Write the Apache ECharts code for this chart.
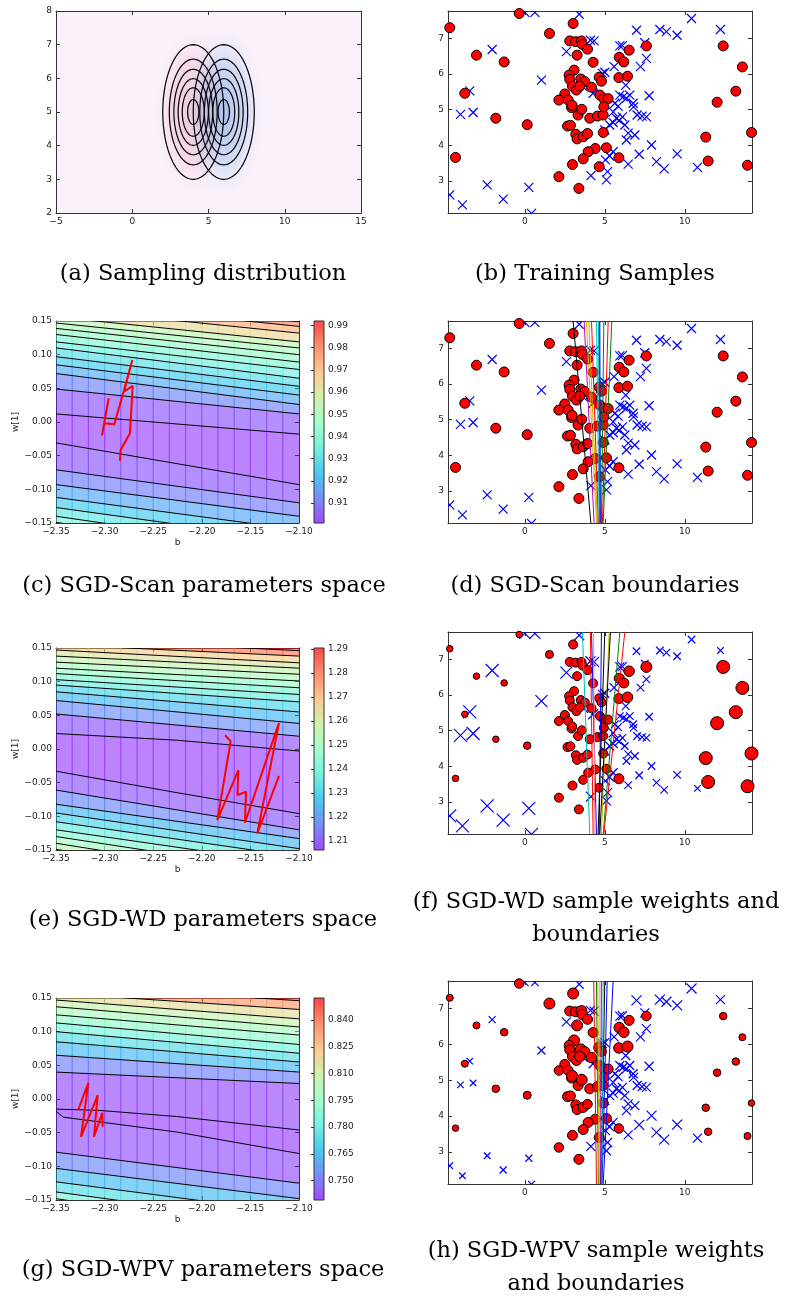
<!DOCTYPE html>
<html>
<head>
<meta charset="utf-8">
<title>SGD sample weighting</title>
<script src="https://cdn.jsdelivr.net/npm/echarts@6/dist/echarts.min.js"></script>
<style>
html, body { margin: 0; padding: 0; background: #fff; }
#fig { width: 790px; height: 1297px; }
</style>
</head>
<body>
<div id="fig"></div>
<script>
// ---------- (a) sampling distribution ----------
var gaussCenters = [[4, 5], [6, 5]];
var gaussTint = ['rgba(232,160,195,0.5)', 'rgba(120,165,230,0.6)'];
var gaussRadii = [2.0, 1.57, 1.27, 0.99, 0.72, 0.37];

// ---------- training samples (same set in b, d, f, h) ----------
var redPts = [
  [-4.69,7.30],[-0.35,7.70],[-3.02,6.53],[-1.29,6.34],[-3.75,5.46],[-1.81,4.76],[0.15,4.58],[-4.33,3.66],
  [1.54,7.14],[3.02,7.42],[2.81,6.93],[3.17,6.91],[3.54,6.93],[3.60,6.83],[3.92,6.70],[3.27,6.53],
  [4.27,6.33],[5.90,6.47],[6.19,6.34],[6.52,6.67],[7.60,6.79],[3.08,6.11],[2.77,5.97],[2.81,5.85],
  [3.50,5.86],[3.75,5.79],[4.65,5.91],[4.79,5.80],[5.88,5.90],[6.42,5.94],[2.98,5.66],[3.23,5.55],
  [3.44,5.66],[4.17,5.63],[2.50,5.44],[2.13,5.27],[2.71,5.27],[4.69,5.41],[4.94,5.31],[5.21,5.31],
  [2.92,5.06],[2.96,5.12],[3.33,4.85],[3.56,5.01],[4.06,4.76],[4.54,4.82],[4.90,4.85],[4.94,5.08],
  [2.67,4.54],[2.85,4.56],[3.19,4.31],[3.27,4.18],[3.65,4.24],[3.92,4.33],[4.90,4.36],[4.40,3.91],
  [3.96,3.82],[5.10,3.93],[3.65,3.62],[2.98,3.46],[4.65,3.40],[5.88,3.65],[2.13,3.12],[3.38,2.79],
  [11.31,4.23],[11.46,3.56],[12.02,5.21],[12.40,6.79],[13.19,5.52],[13.60,6.20],[13.92,3.44],[14.17,4.36]
];
var bluePts = [
  [-4.69,2.61],[-3.90,2.33],[-2.35,2.89],[-1.35,2.49],[0.25,2.82],[0.42,2.09],[-4.02,4.87],[-3.23,4.92],
  [-3.44,5.53],[-2.04,6.69],[0.00,7.73],[0.63,7.73],[1.04,5.83],[3.40,7.68],[2.60,6.63],[4.33,6.93],
  [5.00,6.05],[5.58,6.21],[5.94,6.79],[6.10,6.80],[6.98,7.23],[7.50,6.88],[7.60,6.44],[7.23,6.21],
  [8.44,7.25],[8.85,7.19],[9.52,7.09],[10.42,7.56],[12.23,7.25],[6.31,5.69],[5.94,5.41],[6.15,5.36],
  [6.35,5.32],[6.56,5.41],[7.77,5.39],[5.63,5.18],[5.83,5.10],[6.77,5.18],[6.80,5.08],[7.02,4.85],
  [7.33,4.82],[7.60,4.80],[5.52,4.94],[5.73,4.76],[6.10,4.80],[5.52,4.64],[5.31,4.57],[5.90,4.70],
  [6.25,4.57],[6.46,4.34],[6.88,4.29],[6.35,4.15],[7.92,4.01],[5.00,4.43],[5.52,3.82],[5.04,3.59],
  [5.30,3.70],[6.46,3.47],[7.15,3.75],[8.23,3.54],[8.71,3.34],[9.52,3.76],[10.79,3.38],[4.13,3.15],
  [5.17,3.26],[5.10,3.03],[3.65,5.64],[4.27,5.46],[4.85,6.02],[4.10,6.95]
];
// marker sizes (px): plain panels use one size, weighted panels one per sample
var redSizeB = 10;
var blueSizeB = 9;
var redSizeF = [6.5,6.5,6.5,6.5,6.5,6.5,7.5,6.5, 8,9,9,9,9,9,9,9, 9,10,10,10.5,11,9,9,9, 9,9,9,9,10,10.5,9,9,
  9,9,9,9,9,9,9,9, 9,9,9,9,9,9,9,9, 9,9,9,9,9,9,9,9, 9,9,9,9,9,10,9,9, 13,13,13,13,13,13,13,13];
var redSizeH = [7,9.5,7,7.5,7,7.5,8,6.5, 11,11,10,10,11,10.5,10,11, 10,10.5,10.5,10,9.5,11,10,10,
  11,10.5,11,10,10.5,11,10,10, 10.5,10.5,10,9.5,10,10,10,10, 10,11,10,11,10,10,10,10, 10,10,10,10,10,9.5,10,10,
  10,10,10,10,10,9.5,9.5,10, 7.5,7.5,7.5,7.5,7.5,7,7,6.5];
var blueSizeF = [13,13,13,13,13,13,13,13, 13,13,11,11,12,10,12,10, 9,9,9,9,7.5,7.5,7.5,7.5, 7.5,7.5,7.5,7.5,6.5,7.5,7.5,7.5,
  7.5,7.5,7.5,7.5,7.5,7.5,7.5,7.5, 7.5,7.5,9,9,7.5,9,9,9, 7.5,7.5,7.5,7.5,7.5,9,9,9, 9,7.5,7.5,7.5,7.5,7.5,6.5,10, 9,9,10,10,9,10];
var blueSizeH = [6.5,6.5,6.5,7,7,7,6.5,6.5, 6.5,7,7.5,7.5,8,9,9,9, 9,9,9,9,10,9,9,9, 10,10,10,10,9,9,9,9,
  9,9,9,9,9,9,9,9, 9,9,9,9,9,9,9,9, 9,9,9,9,10,9,9,9, 9,9,10,10,10,10,9,9, 9,9,9,9,9,9];

// decision boundaries: [x at bottom edge, x at top edge]
var bndD = [[4.13,3.02],[4.33,3.71],[4.48,3.85],[4.54,4.00],[4.60,4.17],[4.65,4.48],[4.69,4.60],[4.72,4.66],[4.71,4.69],[4.79,4.94],[4.85,5.21],[4.90,5.44]];
var bndDColor = ['#000000','#bf00bf','#bfbf00','#e0a000','#ff0000','#00bfbf','#00bfbf','#2a8a8a','#0000ff','#008000','#ff0000','#008000'];
var bndF = [[4.06,3.60],[4.27,4.10],[4.48,4.17],[4.38,4.30],[4.65,4.79],[4.58,5.00],[4.79,5.27],[4.69,5.35],[4.90,5.94],[4.94,6.25]];
var bndFColor = ['#00bfbf','#ff0000','#0000ff','#ff8080','#0000ff','#000000','#bfbf00','#000000','#008000','#ff0000'];
var bndH = [[4.48,4.31],[4.60,4.48],[4.65,4.56],[4.69,4.69],[4.73,4.79],[4.77,5.00],[4.83,5.15],[4.90,5.52],[4.81,4.90]];
var bndHColor = ['#ff0000','#008000','#bfbf00','#ff80c0','#bf00bf','#000000','#0000ff','#0000ff','#00bfbf'];

// ---------- parameter spaces: SGD paths [b, w1] ----------
var pathC = [[-2.2958,0.0353],[-2.3027,-0.0200],[-2.3003,-0.0018],[-2.2900,-0.0032],[-2.2807,0.0437],[-2.2715,0.0922],
  [-2.2800,0.0450],[-2.2711,0.0536],[-2.2739,-0.0166],[-2.2835,-0.0413],[-2.2842,-0.0576]];
var pathE = [[-2.1761,0.0205],[-2.1703,0.0116],[-2.1840,-0.1056],[-2.1624,-0.0314],[-2.1634,-0.0685],[-2.1545,-0.0635],
  [-2.1556,-0.1095],[-2.1206,0.0388],[-2.1429,-0.1253],[-2.1206,-0.0398]];
var pathG = [[-2.3270,-0.0156],[-2.3167,0.0240],[-2.3243,-0.0561],[-2.3071,0.0057],[-2.3109,-0.0561],[-2.3023,-0.0205],[-2.3020,-0.0413]];

// contour lines (top to bottom) and the loss value of each band between them
var contC = [
  [[-2.35,0.186],[-2.10,0.149]], [[-2.35,0.179],[-2.10,0.142]], [[-2.35,0.169],[-2.10,0.132]],
  [[-2.35,0.156],[-2.10,0.119]], [[-2.35,0.147],[-2.10,0.110]], [[-2.35,0.139],[-2.10,0.100]],
  [[-2.35,0.130],[-2.10,0.089]], [[-2.35,0.119],[-2.10,0.078]], [[-2.35,0.110],[-2.10,0.065]],
  [[-2.35,0.097],[-2.10,0.053]], [[-2.35,0.085],[-2.10,0.040]], [[-2.35,0.072],[-2.10,0.026]],
  [[-2.35,0.049],[-2.10,0.012]], [[-2.35,0.012],[-2.10,-0.018]], [[-2.35,-0.031],[-2.10,-0.093]],
  [[-2.35,-0.071],[-2.10,-0.120]], [[-2.35,-0.093],[-2.10,-0.140]], [[-2.35,-0.112],[-2.10,-0.160]],
  [[-2.35,-0.127],[-2.10,-0.177]], [[-2.35,-0.140],[-2.10,-0.192]], [[-2.35,-0.149],[-2.10,-0.204]]
];
var bandC = [0.988,0.981,0.973,0.964,0.955,0.950,0.945,0.940,0.935,0.930,0.925,0.919,0.912,0.905,
  0.902,0.905,0.911,0.918,0.925,0.932,0.939,0.948];
var contE = [
  [[-2.35,0.164],[-2.10,0.146]], [[-2.35,0.155],[-2.10,0.138]], [[-2.35,0.147],[-2.10,0.128]],
  [[-2.35,0.138],[-2.10,0.120]], [[-2.35,0.129],[-2.10,0.111]], [[-2.35,0.120],[-2.10,0.101]],
  [[-2.35,0.112],[-2.10,0.091]], [[-2.35,0.103],[-2.10,0.081]], [[-2.35,0.095],[-2.10,0.070]],
  [[-2.35,0.085],[-2.10,0.055]], [[-2.35,0.072],[-2.10,0.038]], [[-2.35,0.052],[-2.10,0.019]],
  [[-2.35,0.023],[-2.225,0.013],[-2.10,-0.003]], [[-2.35,-0.033],[-2.225,-0.065],[-2.10,-0.096]],
  [[-2.35,-0.061],[-2.10,-0.120]], [[-2.35,-0.082],[-2.10,-0.133]], [[-2.35,-0.095],[-2.10,-0.148]],
  [[-2.35,-0.108],[-2.10,-0.160]], [[-2.35,-0.120],[-2.10,-0.172]], [[-2.35,-0.130],[-2.10,-0.185]],
  [[-2.35,-0.140],[-2.10,-0.197]], [[-2.35,-0.149],[-2.10,-0.207]]
];
var bandE = [1.290,1.282,1.268,1.262,1.257,1.252,1.247,1.242,1.237,1.231,1.225,1.218,1.210,
  1.207,1.210,1.217,1.225,1.231,1.237,1.243,1.249,1.255,1.262];
var contG = [
  [[-2.35,0.169],[-2.10,0.146]], [[-2.35,0.157],[-2.10,0.133]], [[-2.35,0.147],[-2.10,0.119]],
  [[-2.35,0.137],[-2.10,0.107]], [[-2.35,0.125],[-2.10,0.095]], [[-2.35,0.113],[-2.10,0.081]],
  [[-2.35,0.100],[-2.10,0.068]], [[-2.35,0.085],[-2.10,0.055]], [[-2.35,0.065],[-2.10,0.040]],
  [[-2.35,0.040],[-2.10,0.023]],
  [[-2.35,-0.015],[-2.305,-0.017],[-2.226,-0.026],[-2.10,-0.046]],
  [[-2.35,-0.018],[-2.3425,-0.027],[-2.226,-0.049],[-2.10,-0.081]],
  [[-2.35,-0.079],[-2.10,-0.125]], [[-2.35,-0.103],[-2.10,-0.148]], [[-2.35,-0.123],[-2.10,-0.170]],
  [[-2.35,-0.138],[-2.10,-0.187]], [[-2.35,-0.148],[-2.10,-0.202]]
];
var bandG = [0.846,0.834,0.816,0.808,0.800,0.792,0.784,0.775,0.765,0.752,0.742,
  0.740,0.743,0.753,0.765,0.775,0.784,0.793];

// colour bar ranges and ticks
var cbC = [0.901, 0.992], cbTicksC = [0.91,0.92,0.93,0.94,0.95,0.96,0.97,0.98,0.99];
var cbE = [1.2063, 1.2904], cbTicksE = [1.21,1.22,1.23,1.24,1.25,1.26,1.27,1.28,1.29];
var cbG = [0.7392, 0.8523], cbTicksG = [0.750,0.765,0.780,0.795,0.810,0.825,0.840];

// axis ticks
var ticksAx = [-5, 0, 5, 10, 15], ticksAy = [2, 3, 4, 5, 6, 7, 8];
var ticksSx = [0, 5, 10], ticksSy = [3, 4, 5, 6, 7];
var ticksPx = [-2.35, -2.30, -2.25, -2.20, -2.15, -2.10];
var ticksPy = [-0.15, -0.10, -0.05, 0.00, 0.05, 0.10, 0.15];

var rangeS = {x: [-4.8, 14.2], y: [2.1, 7.77]};
var rangeP = {x: [-2.35, -2.10], y: [-0.15, 0.15]};

// matplotlib "rainbow"
var rainbow = ['#8000ff','#4062fa','#00b4ec','#40ecd4','#80ffb4','#bfec8e','#ffb462','#ff6232','#ff0000'];

var AX = '#333333';
var grids = [], xAxes = [], yAxes = [], series = [], visualMaps = [], graphics = [];

function fmtDec(d) {
    return function (v) {
        var s = Math.abs(v) < 1e-9 ? (0).toFixed(d) : v.toFixed(d);
        return s.replace('-', '\u2212');
    };
}

function makeAxis(dir, gi, pos, min, max, o) {
    var ax = {
        type: 'value', gridIndex: gi, position: pos, min: min, max: max,
        axisLine: {show: true, onZero: false, lineStyle: {color: AX, width: 1}},
        axisTick: {show: true, inside: true, length: 4, customValues: o.ticks, lineStyle: {color: AX, width: 1}},
        axisLabel: {show: !!o.label, customValues: o.ticks, formatter: o.fmt, margin: 4,
            fontSize: 9, color: '#222', fontFamily: 'DejaVu Sans'},
        splitLine: {show: false}
    };
    if (o.name) {
        ax.name = o.name;
        ax.nameLocation = 'middle';
        ax.nameGap = o.nameGap;
        ax.nameTextStyle = {fontSize: 9, color: '#222', fontFamily: 'DejaVu Sans'};
    }
    var arr = dir === 'x' ? xAxes : yAxes;
    arr.push(ax);
    return arr.length - 1;
}

// a framed plot: 4 axes, ticks inside on every side
function panel(rect, xr, yr, xo, yo, bg) {
    grids.push({left: rect[0], top: rect[1], width: rect[2], height: rect[3], outerBoundsMode: 'none',
        show: !!bg, backgroundColor: bg || 'transparent', borderWidth: 0});
    var gi = grids.length - 1;
    var xi = makeAxis('x', gi, 'bottom', xr[0], xr[1], xo);
    makeAxis('x', gi, 'top', xr[0], xr[1], {ticks: xo.ticks});
    var yi = makeAxis('y', gi, 'left', yr[0], yr[1], yo);
    makeAxis('y', gi, 'right', yr[0], yr[1], {ticks: yo.ticks});
    return {x: xi, y: yi};
}

function crossSeries(ax, pts, sizes, base) {
    return {
        type: 'custom', xAxisIndex: ax.x, yAxisIndex: ax.y, clip: true, silent: true, z: 3,
        data: pts.map(function (p, i) { return [p[0], p[1], sizes ? sizes[i] : base]; }),
        renderItem: function (params, api) {
            var c = api.coord([api.value(0), api.value(1)]);
            var h = api.value(2) / 2;
            var st = {stroke: '#0000ff', lineWidth: 1.2};
            return {type: 'group', children: [
                {type: 'line', shape: {x1: c[0] - h, y1: c[1] - h, x2: c[0] + h, y2: c[1] + h}, style: st},
                {type: 'line', shape: {x1: c[0] - h, y1: c[1] + h, x2: c[0] + h, y2: c[1] - h}, style: st}
            ]};
        }
    };
}

function circleSeries(ax, pts, sizes, base) {
    return {
        type: 'scatter', xAxisIndex: ax.x, yAxisIndex: ax.y, clip: true, silent: true, z: 4,
        data: pts.map(function (p, i) { return [p[0], p[1], sizes ? sizes[i] : base]; }),
        symbolSize: function (v) { return v[2]; },
        itemStyle: {color: '#ff0000', borderColor: '#000', borderWidth: 1, opacity: 1}
    };
}

function boundarySeries(ax, bnd, colors, yr) {
    return {
        type: 'custom', xAxisIndex: ax.x, yAxisIndex: ax.y, clip: true, silent: true, z: 5,
        data: bnd.map(function (b, i) { return [b[0], b[1], i]; }),
        renderItem: function (params, api) {
            var p0 = api.coord([api.value(0), yr[0]]);
            var p1 = api.coord([api.value(1), yr[1]]);
            return {type: 'line', shape: {x1: p0[0], y1: p0[1], x2: p1[0], y2: p1[1]},
                style: {stroke: colors[params.dataIndex], lineWidth: 1}};
        }
    };
}

function scatterPanel(rect, rs, bs, bnd, bndColor) {
    var ax = panel(rect, rangeS.x, rangeS.y,
        {label: true, ticks: ticksSx, fmt: fmtDec(0)},
        {label: true, ticks: ticksSy, fmt: fmtDec(0)});
    series.push(crossSeries(ax, bluePts, bs, blueSizeB));
    series.push(circleSeries(ax, redPts, rs, redSizeB));
    if (bnd) series.push(boundarySeries(ax, bnd, bndColor, rangeS.y));
}

function wAt(line, b) {
    for (var k = 0; k < line.length - 1; k++) {
        var p = line[k], q = line[k + 1];
        if (b <= q[0] || k === line.length - 2) {
            return p[1] + (b - p[0]) / (q[0] - p[0]) * (q[1] - p[1]);
        }
    }
}

function edgePts(line, bL, bR, flat) {
    if (!line) return [[bL, flat], [bR, flat]];
    var out = [[bL, wAt(line, bL)]];
    line.forEach(function (p) { if (p[0] > bL && p[0] < bR) out.push(p); });
    out.push([bR, wAt(line, bR)]);
    return out;
}

function paramPanel(rect, cbRect, path, lines, bands, cb, cbTicks, cbFmt) {
    var xr = rangeP.x, yr = rangeP.y;
    var ax = panel(rect, xr, yr,
        {label: true, ticks: ticksPx, fmt: fmtDec(2), name: 'b', nameGap: 15},
        {label: true, ticks: ticksPy, fmt: fmtDec(2), name: 'w[1]', nameGap: 33});
    var nCol = 15;
    series.push({
        type: 'custom', xAxisIndex: ax.x, yAxisIndex: ax.y, clip: true, silent: true, z: 1,
        data: bands.map(function (v, i) { return [i, v]; }),
        renderItem: function (params, api) {
            var i = params.dataIndex;
            var up = i > 0 ? lines[i - 1] : null;
            var lo = i < lines.length ? lines[i] : null;
            var color = api.visual('color');
            var step = (xr[1] - xr[0]) / nCol;
            var kids = [];
            for (var k = 0; k < nCol; k++) {
                var bL = xr[0] + k * step, bR = bL + step;
                var pts = edgePts(up, bL, bR, yr[1] + 0.1).concat(edgePts(lo, bL, bR, yr[0] - 0.1).reverse());
                var px = pts.map(function (p) {
                    var c = api.coord(p);
                    if (p[0] === bL) c[0] -= 0.6; else if (p[0] === bR) c[0] += 0.6;
                    return c;
                });
                kids.push({type: 'polygon', shape: {points: px}, style: {fill: color, opacity: 0.5}});
            }
            return {type: 'group', children: kids};
        }
    });
    visualMaps.push({type: 'continuous', show: false, seriesIndex: series.length - 1, dimension: 1,
        min: cb[0], max: cb[1], inRange: {color: rainbow}});
    series.push({
        type: 'custom', xAxisIndex: ax.x, yAxisIndex: ax.y, clip: true, silent: true, z: 2,
        data: lines.map(function (l, i) { return [i, 0]; }),
        renderItem: function (params, api) {
            var l = lines[params.dataIndex];
            return {type: 'polyline', shape: {points: l.map(function (p) { return api.coord(p); })},
                style: {stroke: '#000', lineWidth: 1, fill: null}};
        }
    });
    series.push({
        type: 'line', xAxisIndex: ax.x, yAxisIndex: ax.y, data: path, symbol: 'none', silent: true, z: 5,
        lineStyle: {color: '#ff0000', width: 2}
    });

    // colour bar
    grids.push({left: cbRect[0], top: cbRect[1], width: cbRect[2], height: cbRect[3], outerBoundsMode: 'none'});
    var gi = grids.length - 1;
    xAxes.push({type: 'value', gridIndex: gi, min: 0, max: 1, show: false});
    var cx = xAxes.length - 1;
    yAxes.push({type: 'value', gridIndex: gi, position: 'right', min: cb[0], max: cb[1],
        axisLine: {show: false},
        axisTick: {show: true, inside: true, length: 3, customValues: cbTicks, lineStyle: {color: AX}},
        axisLabel: {customValues: cbTicks, formatter: cbFmt, margin: 4, fontSize: 9, color: '#222', fontFamily: 'DejaVu Sans'},
        splitLine: {show: false}});
    var cy = yAxes.length - 1;
    series.push({
        type: 'custom', xAxisIndex: cx, yAxisIndex: cy, silent: true, z: 1,
        data: [[0, cb[0], cb[1]]],
        renderItem: function (params, api) {
            var p0 = api.coord([0, api.value(1)]);
            var p1 = api.coord([1, api.value(2)]);
            var shape = {x: p0[0], y: p1[1], width: p1[0] - p0[0], height: p0[1] - p1[1]};
            var stops = rainbow.map(function (c, k) { return {offset: k / (rainbow.length - 1), color: c}; });
            return {type: 'group', children: [
                {type: 'rect', shape: shape, style: {fill: new echarts.graphic.LinearGradient(0, 1, 0, 0, stops), opacity: 0.72}},
                {type: 'rect', shape: shape, style: {fill: null, stroke: AX, lineWidth: 1}}
            ]};
        }
    });
}

// ---------- (a) ----------
var axA = panel([56, 11, 305, 202], [-5, 15], [2, 8],
    {label: true, ticks: ticksAx, fmt: fmtDec(0)},
    {label: true, ticks: ticksAy, fmt: fmtDec(0)}, '#faf1fa');
series.push({
    type: 'custom', xAxisIndex: axA.x, yAxisIndex: axA.y, clip: true, silent: true, z: 1,
    data: gaussCenters.map(function (c, i) { return [c[0], c[1], i]; }),
    renderItem: function (params, api) {
        var c = api.coord([api.value(0), api.value(1)]);
        var sz = api.size([2.7, 2.7]);
        var tint = gaussTint[params.dataIndex];
        return {type: 'circle', x: c[0], y: c[1], scaleY: sz[1] / sz[0], shape: {cx: 0, cy: 0, r: sz[0]},
            style: {fill: new echarts.graphic.RadialGradient(0.5, 0.5, 0.5, [
                {offset: 0, color: tint}, {offset: 0.55, color: tint.replace(/[\d.]+\)$/, '0.3)')},
                {offset: 1, color: 'rgba(255,255,255,0)'}])}};
    }
});
var gaussRings = [];
gaussCenters.forEach(function (c) { gaussRadii.forEach(function (r) { gaussRings.push([c[0], c[1], r]); }); });
series.push({
    type: 'custom', xAxisIndex: axA.x, yAxisIndex: axA.y, clip: true, silent: true, z: 2,
    data: gaussRings,
    renderItem: function (params, api) {
        var cx = api.value(0), cy = api.value(1), r = api.value(2);
        var pts = [];
        for (var k = 0; k <= 96; k++) {
            var t = k / 96 * Math.PI * 2;
            pts.push(api.coord([cx + r * Math.cos(t), cy + r * Math.sin(t)]));
        }
        return {type: 'polyline', shape: {points: pts}, style: {stroke: '#000', lineWidth: 1.2, fill: null}};
    }
});

// ---------- scatter panels ----------
scatterPanel([448, 11, 304, 202], null, null, null, null);
scatterPanel([448, 321, 304, 202], null, null, bndD, bndDColor);
scatterPanel([448, 632, 304, 202], redSizeF, blueSizeF, bndF, bndFColor);
scatterPanel([448, 981, 304, 203], redSizeH, blueSizeH, bndH, bndHColor);

// ---------- parameter space panels ----------
paramPanel([56, 321, 243, 202], [314, 321, 10, 202], pathC, contC, bandC, cbC, cbTicksC, fmtDec(2));
paramPanel([56, 648, 243, 202], [314, 648, 10, 202], pathE, contE, bandE, cbE, cbTicksE, fmtDec(2));
paramPanel([56, 998, 243, 202], [314, 998, 10, 202], pathG, contG, bandG, cbG, cbTicksG, fmtDec(3));

// ---------- captions ----------
var captions = [
    [203, 274, '(a) Sampling distribution'],
    [595, 274, '(b) Training Samples'],
    [204, 586, '(c) SGD-Scan parameters space'],
    [595, 586, '(d) SGD-Scan boundaries'],
    [203, 920, '(e) SGD-WD parameters space'],
    [596, 919, '(f) SGD-WD sample weights and\nboundaries'],
    [203, 1270, '(g) SGD-WPV parameters space'],
    [596, 1268, '(h) SGD-WPV sample weights\nand boundaries']
];
captions.forEach(function (c) {
    graphics.push({type: 'text', x: c[0], y: c[1], silent: true,
        style: {text: c[2], fontSize: 22.5, fontFamily: 'DejaVu Serif', fill: '#000', lineHeight: 33,
            align: 'center', verticalAlign: 'middle', textAlign: 'center', textVerticalAlign: 'middle'}});
});

var chart = echarts.init(document.getElementById('fig'), null, {renderer: 'canvas'});
chart.setOption({
    animation: false,
    backgroundColor: '#ffffff',
    grid: grids,
    xAxis: xAxes,
    yAxis: yAxes,
    visualMap: visualMaps,
    series: series,
    graphic: graphics
});
</script>
</body>
</html>
